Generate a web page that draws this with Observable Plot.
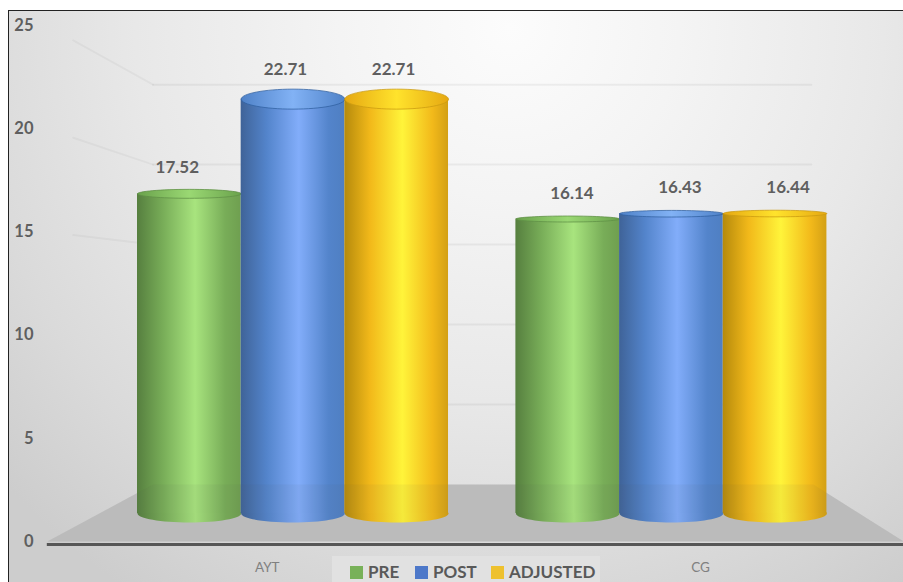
<!DOCTYPE html>
<html>
<head>
<meta charset="utf-8">
<script src="https://cdn.jsdelivr.net/npm/d3@7"></script>
<script src="https://cdn.jsdelivr.net/npm/@observablehq/plot@0.6"></script>
<style>
  html, body { margin: 0; padding: 0; background: #fff; }
  #chart { position: relative; width: 903px; height: 582px; overflow: hidden; font-family: Lato, sans-serif; }
  #chart::before {
    content: ""; position: absolute; left: 8px; top: 10px; right: 0; bottom: 0;
    border-left: 1.5px solid #222; border-top: 1.5px solid #222;
    background: radial-gradient(circle 680px at 56% 3%, #fcfcfc 0%, #f4f4f4 25%, #e8e8e8 55%, #dadada 80%, #cdcdcd 100%);
  }
  #chart svg { position: absolute; left: 0; top: 0; }
  #legend {
    position: absolute; left: 332px; top: 556px; width: 268px; height: 26px;
    background: #e1e1e1; color: #595959; font-weight: 700; font-size: 17px; line-height: 20px;
  }
  #legend .item { position: absolute; top: 6px; display: flex; align-items: center; gap: 5px; white-space: nowrap; }
  #legend .swatch { width: 13px; height: 13px; display: inline-block; }
</style>
</head>
<body>
<div id="chart"><div id="legend"></div></div>
<script>
// Mean scores per group, measured before, after and adjusted
const categories = ["AYT", "CG"];
const seriesNames = ["PRE", "POST", "ADJUSTED"];
const aytValues = [17.52, 22.71, 22.71];
const cgValues = [16.14, 16.43, 16.44];
const yTicks = [0, 5, 10, 15, 20, 25];

// Swatch, and left / mid / highlight / right shades of each cylinder
const swatchColors = ["#78b159", "#4d78c9", "#eec12e"];
const bodyShades = [
  ["#567f3f", "#78ad58", "#a8e47e", "#6f9f50"],
  ["#3f6398", "#5384cb", "#82adfa", "#4f7fc2"],
  ["#b58a0c", "#f2b91a", "#fff43a", "#d3a015"]
];
const capShades = [
  ["#6aa24c", "#9ad873"],
  ["#4f82c8", "#82b2f5"],
  ["#e6a812", "#ffe32c"]
];
const capRims = ["#5f8f45", "#2f5f9f", "#c99a10"];

// The group of three cylinders sits one bar-width apart; x is measured in bar widths
const groupStart = [0, 3.65];
const rows = categories.flatMap((category, c) =>
  seriesNames.map((name, s) => ({
    category, name, s,
    value: (c === 0 ? aytValues : cgValues)[s],
    slot: groupStart[c] + s
  }))
);

// The chart is a perspective view: each depth plane has its own base and vertical foreshortening
const barPlane = v => 1.357 + 0.884 * v;
const wallPlane = v => 2.76 + 0.775 * v;
const labelPlane = v => 2.083 + 0.9157 * v;
const vanishingSlot = 3.21;
const fan = (slot, amount) => slot + amount * (slot - vanishingSlot);

// Floor trapezoid and side walls, in bar widths
const floorFront = [-0.87, 7.39];
const floorBack = [0.15, 6.52];
const wallEnd = 6.5;
const sideStart = -0.62;
const sideMix = 0.25;

const floorPoints = [
  {x: floorFront[0], y: 0},
  {x: floorBack[0], y: wallPlane(0)},
  {x: floorBack[1], y: wallPlane(0)},
  {x: floorFront[1], y: 0}
];
const floorMark = options => Plot.line(floorPoints, {x: "x", y: "y", stroke: "none", ...options});

const gridTicks = yTicks.filter(t => t > 0);
const wallRows = gridTicks.flatMap(t => [
  {t, x: floorBack[0], y: wallPlane(t)},
  {t, x: wallEnd, y: wallPlane(t)}
]);
const sideRows = gridTicks.filter(t => t >= 15).flatMap(t => [
  {t, x: sideStart, y: t + sideMix * (wallPlane(t) - t)},
  {t, x: floorBack[0], y: wallPlane(t)}
]);

// Gradient definitions for cylinder bodies and caps
const gradients = () => {
  const defs = d3.create("svg:defs");
  seriesNames.forEach((name, i) => {
    const [a, b, c, d] = bodyShades[i];
    const g = defs.append("linearGradient").attr("id", `body-${name}`);
    [[0, a], [0.25, b], [0.56, c], [0.85, b], [1, d]].forEach(([o, col]) =>
      g.append("stop").attr("offset", o).attr("stop-color", col));
    const [edge, glow] = capShades[i];
    const h = defs.append("linearGradient").attr("id", `cap-${name}`);
    [[0, edge], [0.5, glow], [1, edge]].forEach(([o, col]) =>
      h.append("stop").attr("offset", o).attr("stop-color", col));
  });
  return defs.node();
};

// A flattened circle used as the visible end of a cylinder
const ellipseSymbol = ry => ({
  draw(context, size) {
    const rx = Math.sqrt(size / Math.PI), k = 0.5523;
    context.moveTo(-rx, 0);
    context.bezierCurveTo(-rx, -k * ry, -k * rx, -ry, 0, -ry);
    context.bezierCurveTo(k * rx, -ry, rx, -k * ry, rx, 0);
    context.bezierCurveTo(rx, k * ry, k * rx, ry, 0, ry);
    context.bezierCurveTo(-k * rx, ry, -rx, k * ry, -rx, 0);
    context.closePath();
  }
});
const capRy = v => 3 + (v - 16.14) * 1.065;
const barRadius = 51.8;

const cylinder = d => [
  Plot.dot([d], {
    x: () => d.slot + 0.5, y: () => barPlane(0), r: barRadius,
    symbol: ellipseSymbol(9), fill: `url(#body-${d.name})`, stroke: "none"
  }),
  Plot.rect([d], {
    x1: () => d.slot, x2: () => d.slot + 1,
    y1: () => barPlane(0), y2: () => barPlane(d.value),
    fill: `url(#body-${d.name})`
  }),
  Plot.dot([d], {
    x: () => d.slot + 0.5, y: () => barPlane(d.value), r: barRadius,
    symbol: ellipseSymbol(capRy(d.value)), fill: `url(#cap-${d.name})`,
    stroke: capRims[d.s], strokeWidth: 1, strokeOpacity: 0.75
  })
];

const chart = Plot.plot({
  width: 903,
  height: 582,
  marginTop: 0, marginRight: 0, marginBottom: 0, marginLeft: 33,
  style: {background: "transparent", overflow: "visible", fontFamily: "Lato, sans-serif"},
  x: {domain: [0, 6.65], range: [137, 137 + 6.65 * 103.67], axis: null},
  y: {domain: [0, 25], range: [541, 25], axis: null},
  marks: [
    gradients,
    Plot.line(wallRows, {x: "x", y: "y", z: "t", stroke: "#000", strokeOpacity: 0.05, strokeWidth: 2}),
    Plot.line(sideRows, {x: "x", y: "y", z: "t", stroke: "#000", strokeOpacity: 0.035, strokeWidth: 2}),
    floorMark({fill: "#c2c2c2"}),
    rows.flatMap(cylinder),
    // The floor shows faintly through the lower end of the cylinders
    floorMark({fill: "#5a5a5a", fillOpacity: 0.06}),
    Plot.ruleY([0], {
      x1: floorFront[0], x2: floorFront[1] + 0.1, dy: 3,
      stroke: "#565656", strokeWidth: 3
    }),
    Plot.axisY({
      anchor: "left", ticks: yTicks, tickSize: 0, tickPadding: 0, label: null,
      fontSize: 16.5, fontWeight: 700, color: "#5f5f5f", tickFormat: d3.format("d")
    }),
    Plot.text(rows, {
      x: d => fan(d.slot + 0.5, 0.0427),
      y: d => labelPlane(d.value),
      text: d => d.value.toFixed(2),
      fontSize: 17, fontWeight: 700, fill: "#5f5f5f"
    }),
    Plot.text(categories, {
      x: (d, i) => fan(groupStart[i] + 1.5, 0.145),
      y: () => 0,
      dy: 26,
      fontSize: 13.5, fill: "#808080"
    })
  ]
});
document.getElementById("chart").insertBefore(chart, document.getElementById("legend"));

// Legend below the axis
const legend = d3.select("#legend");
const legendOffsets = [18, 83, 159];
seriesNames.forEach((name, i) => {
  const item = legend.append("div").attr("class", "item").style("left", legendOffsets[i] + "px");
  item.append("span").attr("class", "swatch").style("background", swatchColors[i]);
  item.append("span").text(name);
});
</script>
</body>
</html>
